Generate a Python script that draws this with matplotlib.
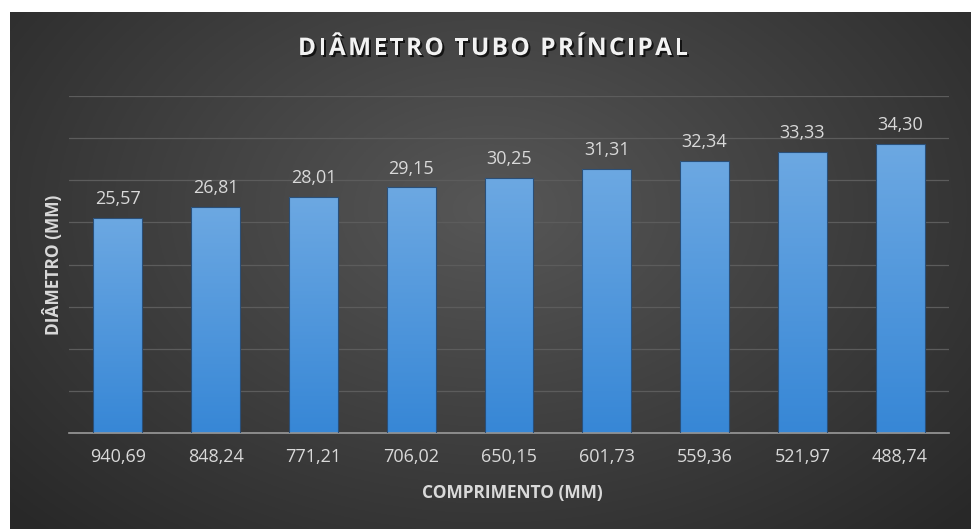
import numpy as np
import matplotlib.pyplot as plt
import matplotlib.patheffects as pe

# data
comprimento = ['940,69', '848,24', '771,21', '706,02', '650,15',
               '601,73', '559,36', '521,97', '488,74']
diametro = [25.57, 26.81, 28.01, 29.15, 30.25, 31.31, 32.34, 33.33, 34.30]
titulo = 'DIÂMETRO TUBO PRÍNCIPAL'

W, H = 971, 529
fig = plt.figure(figsize=(W / 100, H / 100), dpi=100, facecolor='white')
plt.rcParams['font.family'] = ['Open Sans', 'DejaVu Sans']

# dark radial background of the chart area
bg = fig.add_axes([10 / W, 0, 1 - 10 / W, 517 / H])
bg.set_axis_off()
yy, xx = np.mgrid[0:1:300j, 0:1:500j]
r = np.sqrt(((xx - 0.5) / 0.75) ** 2 + ((yy - 0.62) / 0.95) ** 2)
shade = np.clip(0.34 - 0.2 * r, 0.16, 0.34)
bg.imshow(np.dstack([shade] * 3), aspect='auto', extent=[0, 1, 0, 1], origin='lower')
bg.set_xlim(0, 1)
bg.set_ylim(0, 1)

ax = fig.add_axes([69 / W, 1 - 433 / H, 880 / W, 337 / H])
ax.set_facecolor('none')

x = np.arange(len(comprimento))
bars = ax.bar(x, diametro, width=0.5, color='none', edgecolor='#2a4f78', linewidth=0.8, zorder=3)

# vertical gradient fill for each bar
grad = np.linspace(0, 1, 100).reshape(-1, 1)
cmap = plt.matplotlib.colors.LinearSegmentedColormap.from_list('b', ['#3787d6', '#6ca8e2'])
for b in bars:
    im = ax.imshow(grad, cmap=cmap, aspect='auto', origin='lower', zorder=2,
                   extent=[b.get_x(), b.get_x() + b.get_width(), 0, b.get_height()])
    im.set_clip_path(b)

for xi, v in zip(x, diametro):
    ax.annotate(f'{v:.2f}'.replace('.', ','), (xi, v), xytext=(0, 7), textcoords='offset points',
                ha='center', va='bottom', color='#d9d9d9', fontsize=13)

ax.set_xlim(-0.5, len(x) - 0.5)
ax.set_ylim(0, 40)
ax.set_yticks(np.arange(0, 41, 5))
ax.yaxis.grid(True, color='#5c5c5c', linewidth=0.9, zorder=0)
ax.set_axisbelow(True)
ax.tick_params(axis='y', left=False, labelleft=False)
ax.set_xticks(x, comprimento)
ax.tick_params(axis='x', length=0, pad=11, labelsize=13, labelcolor='#d9d9d9')
for s in ['top', 'right', 'left']:
    ax.spines[s].set_visible(False)
ax.spines['bottom'].set_color('#9a9a9a')
ax.spines['bottom'].set_linewidth(1.2)

# title with letter spacing, placed char by char to span ~390 px
fig.canvas.draw()
rend = fig.canvas.get_renderer()
tkw = dict(fontsize=17.5, fontweight='bold', color='#f2f2f2', va='center', ha='left',
           path_effects=[pe.withSimplePatchShadow(offset=(1.5, -1.5), shadow_rgbFace='black', alpha=0.7)])
widths = []
for ch in titulo:
    t = fig.text(0, 0, ch if ch != ' ' else 'I', **tkw)
    widths.append(t.get_window_extent(rend).width * (0.7 if ch == ' ' else 1.0))
    t.remove()
gap = max(0.5, (390 - sum(widths)) / (len(titulo) - 1))
total = sum(widths) + gap * (len(titulo) - 1)
xpos = 493 - total / 2
for ch, w in zip(titulo, widths):
    if ch != ' ':
        fig.text(xpos / W, 1 - 49 / H, ch, **tkw)
    xpos += w + gap

fig.text(512 / W, 1 - 493 / H, 'COMPRIMENTO (MM)', ha='center', va='center',
         fontsize=12.5, fontweight='bold', color='#d9d9d9')
fig.text(53 / W, 1 - 265 / H, 'DIÂMETRO (MM)', ha='center', va='center', rotation=90,
         fontsize=12.5, fontweight='bold', color='#d9d9d9')

fig.savefig('out.png', dpi=100, facecolor='white')
